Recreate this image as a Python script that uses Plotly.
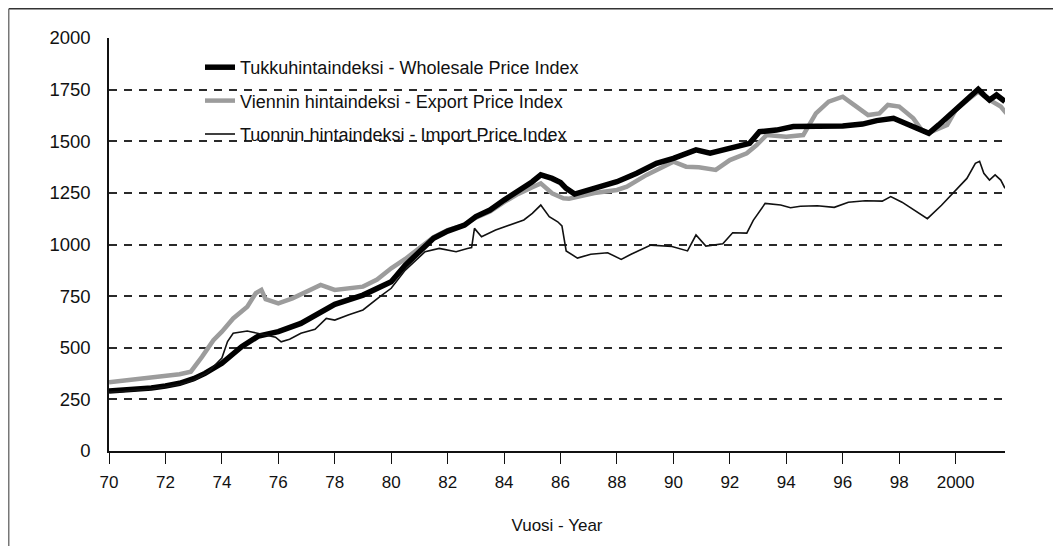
import plotly.graph_objects as go

# ---------------- data ----------------
wholesale_years = [1970.0, 1970.5, 1971.0, 1971.5, 1972.0, 1972.5, 1973.0, 1973.4, 1974.0, 1974.7,
                   1975.3, 1976.0, 1976.8, 1977.4, 1978.0, 1979.0, 1979.5, 1980.0, 1980.5, 1981.0,
                   1981.5, 1982.0, 1982.6, 1983.0, 1983.5, 1984.0, 1984.6, 1985.0, 1985.3, 1985.7,
                   1986.0, 1986.2, 1986.5, 1987.0, 1988.0, 1988.7, 1989.4, 1990.0, 1990.8, 1991.3,
                   1992.0, 1992.7, 1993.05, 1993.65, 1994.25, 1995.05, 1996.0, 1996.7, 1997.2, 1997.8,
                   1998.25, 1998.7, 1999.05, 1999.4, 1999.9, 2000.4, 2000.8, 2001.0, 2001.2, 2001.45,
                   2001.75]
wholesale_values = [290, 293, 300, 305, 315, 328, 350, 376, 425, 505,
                    557, 578, 618, 667, 710, 755, 785, 820, 900, 965,
                    1030, 1065, 1094, 1135, 1167, 1215, 1264, 1304, 1337, 1320,
                    1300, 1272, 1244, 1264, 1304, 1345, 1393, 1417, 1458, 1442,
                    1466, 1490, 1546, 1554, 1571, 1571, 1574, 1583, 1600, 1611,
                    1587, 1563, 1538, 1579, 1643, 1700, 1752, 1724, 1700, 1724,
                    1692]

export_years = [1970.0, 1970.5, 1971.0, 1971.5, 1972.0, 1972.5, 1972.9, 1973.1, 1973.3, 1973.7,
                1974.0, 1974.4, 1974.9, 1975.2, 1975.4, 1975.55, 1976.0, 1976.5, 1976.9, 1977.5,
                1978.0, 1978.5, 1979.0, 1979.5, 1980.0, 1980.5, 1981.0, 1981.5, 1982.0, 1982.5,
                1983.0, 1983.5, 1984.0, 1984.5, 1985.0, 1985.3, 1985.7, 1986.1, 1986.3, 1987.2,
                1988.0, 1988.35, 1989.05, 1990.0, 1990.45, 1990.9, 1991.5, 1992.0, 1992.6, 1992.95,
                1993.3, 1994.0, 1994.6, 1995.05, 1995.5, 1996.0, 1996.4, 1996.9, 1997.3, 1997.6,
                1998.0, 1998.5, 1998.8, 1999.05, 1999.7, 2000.0, 2000.5, 2000.8, 2001.2, 2001.6,
                2001.8]
export_values = [333, 340, 348, 355, 363, 372, 384, 425, 457, 537,
                 578, 642, 699, 764, 780, 735, 715, 739, 764, 804,
                 780, 790, 796, 830, 885, 930, 981, 1035, 1070, 1090,
                 1130, 1160, 1205, 1245, 1277, 1296, 1248, 1224, 1222, 1249,
                 1264, 1280, 1337, 1401, 1377, 1374, 1361, 1409, 1442, 1482,
                 1530, 1522, 1530, 1635, 1692, 1716, 1676, 1627, 1635, 1676,
                 1668, 1611, 1554, 1541, 1579, 1651, 1708, 1740, 1700, 1668,
                 1635]

import_years = [1970.0, 1970.5, 1971.0, 1971.5, 1972.0, 1972.5, 1973.0, 1973.5, 1974.0, 1974.2,
                1974.4, 1974.9, 1975.1, 1975.4, 1975.9, 1976.1, 1976.4, 1976.8, 1977.3, 1977.7,
                1978.0, 1978.5, 1979.0, 1979.6, 1980.0, 1980.5, 1980.9, 1981.2, 1981.7, 1982.3,
                1982.7, 1982.85, 1982.95, 1983.2, 1983.7, 1984.2, 1984.7, 1985.0, 1985.3, 1985.6,
                1985.9, 1986.05, 1986.2, 1986.6, 1987.07, 1987.67, 1988.15, 1988.5, 1989.2, 1989.95,
                1990.5, 1990.8, 1991.15, 1991.75, 1992.1, 1992.6, 1992.83, 1993.25, 1993.8, 1994.15,
                1994.5, 1995.1, 1995.7, 1996.2, 1996.8, 1997.4, 1997.7, 1998.1, 1998.6, 1999.0,
                1999.5, 2000.0, 2000.4, 2000.7, 2000.85, 2001.0, 2001.2, 2001.4, 2001.6, 2001.75]
import_values = [285, 288, 295, 300, 310, 322, 343, 380, 450, 530,
                 570, 581, 575, 565, 551, 529, 541, 570, 589, 642,
                 634, 660, 683, 747, 788, 876, 925, 965, 981, 965,
                 981, 985, 1078, 1038, 1070, 1094, 1119, 1151, 1191, 1135,
                 1110, 1090, 969, 934, 953, 960, 928, 953, 997, 990,
                 969, 1046, 992, 1004, 1057, 1055, 1117, 1199, 1191, 1178,
                 1185, 1188, 1180, 1205, 1212, 1210, 1232, 1205, 1160, 1125,
                 1190, 1260, 1320, 1393, 1403, 1345, 1312, 1337, 1312, 1272]

tick_years = list(range(1970, 2001, 2))
tick_labels = ["70", "72", "74", "76", "78", "80", "82", "84", "86", "88",
               "90", "92", "94", "96", "98", "2000"]
y_ticks = [0, 250, 500, 750, 1000, 1250, 1500, 1750, 2000]

names = ["Tukkuhintaindeksi - Wholesale Price Index",
         "Viennin hintaindeksi - Export Price Index",
         "Tuonnin hintaindeksi - Import Price Index"]

# ---------------- figure ----------------
fig = go.Figure()
fig.add_trace(go.Scatter(x=export_years, y=export_values, mode="lines", name=names[1],
                         line=dict(color="#9c9c9c", width=4.5), legendrank=2, legendgroup="b"))
fig.add_trace(go.Scatter(x=wholesale_years, y=wholesale_values, mode="lines", name=names[0],
                         line=dict(color="#000000", width=5.5), legendrank=1, legendgroup="a"))
fig.add_trace(go.Scatter(x=import_years, y=import_values, mode="lines", name=names[2],
                         line=dict(color="#111111", width=1.6), legendrank=3, legendgroup="c"))

# page has an 8px body margin; figure coordinates are page coordinates minus 8
W, H = 1053, 538
L, T = 101, 30
R = W - 997
B = H - 443
pw, ph = W - L - R, H - T - B

def px_x(p):
    return (p - L) / pw

def px_y(p):
    return (H - B - p) / ph

fig.update_layout(
    width=W, height=H,
    margin=dict(l=L, r=R, t=T, b=B),
    paper_bgcolor="white", plot_bgcolor="white",
    font=dict(family="Liberation Sans, Arial, sans-serif", color="#111111", size=17),
    showlegend=True,
    legend=dict(x=px_x(192), y=px_y(41), xanchor="left", yanchor="top",
                bgcolor="rgba(0,0,0,0)", font=dict(size=18), traceorder="grouped",
                tracegroupgap=7, itemwidth=30),
    xaxis=dict(range=[1970, 2001.75], tickmode="array", tickvals=tick_years, ticktext=tick_labels,
               showgrid=False, zeroline=False, showline=True, linecolor="#111111", linewidth=2,
               ticks="outside", ticklen=11, tickwidth=1.2, tickcolor="#111111",
               tickfont=dict(size=17), ticklabelstandoff=4,
               title=dict(text="Vuosi - Year", font=dict(size=17), standoff=28)),
    yaxis=dict(range=[0, 2000], tickmode="array", tickvals=y_ticks,
               showgrid=True, gridcolor="#2a2a2a", gridwidth=1.5, griddash="8px,7px",
               zeroline=False, showline=True, linecolor="#111111", linewidth=1.5,
               ticks="", ticklabelstandoff=13, tickfont=dict(size=18.5)),
)

# outer frame (top and left edges)
fig.add_shape(type="line", xref="paper", yref="paper",
              x0=px_x(0.8), x1=px_x(W), y0=px_y(0.8), y1=px_y(0.8),
              line=dict(color="#333333", width=1.5))
fig.add_shape(type="line", xref="paper", yref="paper",
              x0=px_x(0.8), x1=px_x(0.8), y0=px_y(0.8), y1=px_y(H),
              line=dict(color="#555555", width=1.2))

fig.write_html("out.html")
